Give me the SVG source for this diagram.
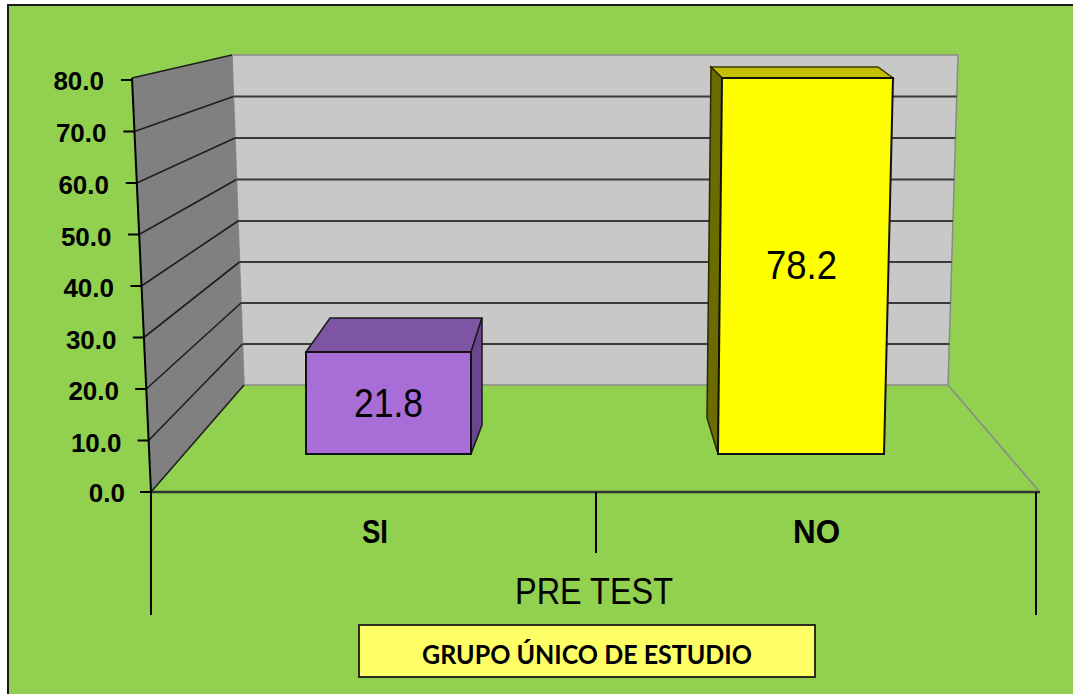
<svg xmlns="http://www.w3.org/2000/svg" width="1073" height="694" viewBox="0 0 1073 694">
<style>
.ylab{font-family:"Liberation Sans",Arial,sans-serif;font-weight:bold;font-size:26px;fill:#000;text-anchor:end}
.cat{font-family:"Liberation Sans",Arial,sans-serif;font-weight:bold;font-size:34px;fill:#000}
.val{font-family:"Liberation Sans",Arial,sans-serif;font-size:40px;fill:#000}
.grid{stroke:#3a3a3a;stroke-width:2.2;fill:none}
.side{stroke:#1e1e1e;stroke-width:1.6;fill:none}
.tick{stroke:#000;stroke-width:2;fill:none}
</style>
<rect x="0" y="0" width="1073" height="694" fill="#ffffff"/>
<rect x="8" y="5" width="1075" height="700" fill="#92D050" stroke="#1a1a1a" stroke-width="2"/>

<g id="plot-area">
  <!-- back wall -->
  <polygon points="232,55 958,55 948,385 244,385" fill="#C8C8C8" stroke="#8a8a8a" stroke-width="1.5"/>
  <g id="back-grid">
    <line class="grid" x1="233.5" y1="96.5" x2="956.75" y2="96.5"/>
    <line class="grid" x1="235" y1="138" x2="955.5" y2="138"/>
    <line class="grid" x1="236.5" y1="179.5" x2="954.25" y2="179.5"/>
    <line class="grid" x1="238" y1="221" x2="953" y2="221"/>
    <line class="grid" x1="239.5" y1="262" x2="951.75" y2="262"/>
    <line class="grid" x1="241" y1="303" x2="950.5" y2="303"/>
    <line class="grid" x1="242.5" y1="344" x2="949.25" y2="344"/>
  </g>
  <!-- side wall -->
  <polygon points="132,78 232,55 244,385 151,492" fill="#808080"/>
  <g id="side-grid">
    <line class="side" x1="132" y1="78" x2="232" y2="55"/>
    <line class="side" x1="134.4" y1="131.5" x2="233.5" y2="96.5"/>
    <line class="side" x1="136.75" y1="183" x2="235" y2="138"/>
    <line class="side" x1="139.1" y1="234.5" x2="236.5" y2="179.5"/>
    <line class="side" x1="141.5" y1="286" x2="238" y2="221"/>
    <line class="side" x1="143.9" y1="337.5" x2="239.5" y2="262"/>
    <line class="side" x1="146.25" y1="389" x2="241" y2="303"/>
    <line class="side" x1="148.6" y1="440.5" x2="242.5" y2="344"/>
    <line class="side" x1="151" y1="492" x2="244" y2="385"/>
  </g>
  <!-- floor -->
  <line x1="948" y1="385" x2="1038" y2="490" stroke="#8a8a8a" stroke-width="1.6"/>
  <line x1="151" y1="492" x2="1040" y2="492" stroke="#333" stroke-width="2.5"/>
</g>

<g id="connectors">
  <line class="tick" x1="132" y1="78" x2="151" y2="492"/>
  <line class="tick" x1="151" y1="492" x2="151" y2="615"/>
  <line class="tick" x1="596" y1="492" x2="596" y2="553"/>
  <line class="tick" x1="1036" y1="492" x2="1036" y2="615"/>
  <line class="tick" x1="121" y1="80" x2="132" y2="80"/>
  <line class="tick" x1="123.4" y1="131.5" x2="134.4" y2="131.5"/>
  <line class="tick" x1="125.75" y1="183" x2="136.75" y2="183"/>
  <line class="tick" x1="128.1" y1="234.5" x2="139.1" y2="234.5"/>
  <line class="tick" x1="130.5" y1="286" x2="141.5" y2="286"/>
  <line class="tick" x1="132.9" y1="337.5" x2="143.9" y2="337.5"/>
  <line class="tick" x1="135.25" y1="389" x2="146.25" y2="389"/>
  <line class="tick" x1="137.6" y1="440.5" x2="148.6" y2="440.5"/>
  <line class="tick" x1="140" y1="492" x2="151" y2="492"/>
</g>

<g id="y-labels">
  <text class="ylab" x="104" y="90">80.0</text>
  <text class="ylab" x="106.5" y="142">70.0</text>
  <text class="ylab" x="109" y="194">60.0</text>
  <text class="ylab" x="111.5" y="245.5">50.0</text>
  <text class="ylab" x="114" y="297">40.0</text>
  <text class="ylab" x="116.5" y="349">30.0</text>
  <text class="ylab" x="119" y="400">20.0</text>
  <text class="ylab" x="121.5" y="451.5">10.0</text>
  <text class="ylab" x="125" y="502">0.0</text>
</g>

<g id="bar-si">
  <polygon points="306,352 330,318 482,318 471,352" fill="#7E55A3" stroke="#1a1a1a" stroke-width="1.5"/>
  <polygon points="471,352 482,318 482,425 471,454" fill="#6A4590" stroke="#1a1a1a" stroke-width="1.5"/>
  <rect x="306" y="352" width="165" height="102" fill="#A96DD7" stroke="#111" stroke-width="2"/>
  <text class="val" x="354" y="417" textLength="69" lengthAdjust="spacingAndGlyphs">21.8</text>
</g>

<g id="bar-no">
  <polygon points="711,67 878,67 893,78 722,78" fill="#C4BE00" stroke="#3a3a00" stroke-width="1.5"/>
  <polygon points="711,67 722,78 718,454 707,418" fill="#6B6B00" stroke="#2a2a00" stroke-width="1.5"/>
  <polygon points="722,78 893,78 884,454 718,454" fill="#FFFF00" stroke="#111" stroke-width="2"/>
  <text class="val" x="766" y="279" textLength="71" lengthAdjust="spacingAndGlyphs">78.2</text>
</g>

<g id="category-labels">
  <text class="cat" x="362" y="543" textLength="26" lengthAdjust="spacingAndGlyphs">SI</text>
  <text class="cat" x="793" y="543" textLength="47" lengthAdjust="spacingAndGlyphs">NO</text>
  <text x="515" y="604" font-family="Liberation Sans, Arial, sans-serif" font-size="36" fill="#000" textLength="158" lengthAdjust="spacingAndGlyphs">PRE TEST</text>
</g>

<g id="legend">
  <rect x="359" y="625" width="456" height="52" fill="#FFFF66" stroke="#1a1a1a" stroke-width="1.8"/>
  <text x="422" y="664" font-family="Lato, 'Open Sans', sans-serif" font-weight="bold" font-size="26" fill="#000" textLength="330" lengthAdjust="spacingAndGlyphs">GRUPO ÚNICO DE ESTUDIO</text>
</g>
</svg>
